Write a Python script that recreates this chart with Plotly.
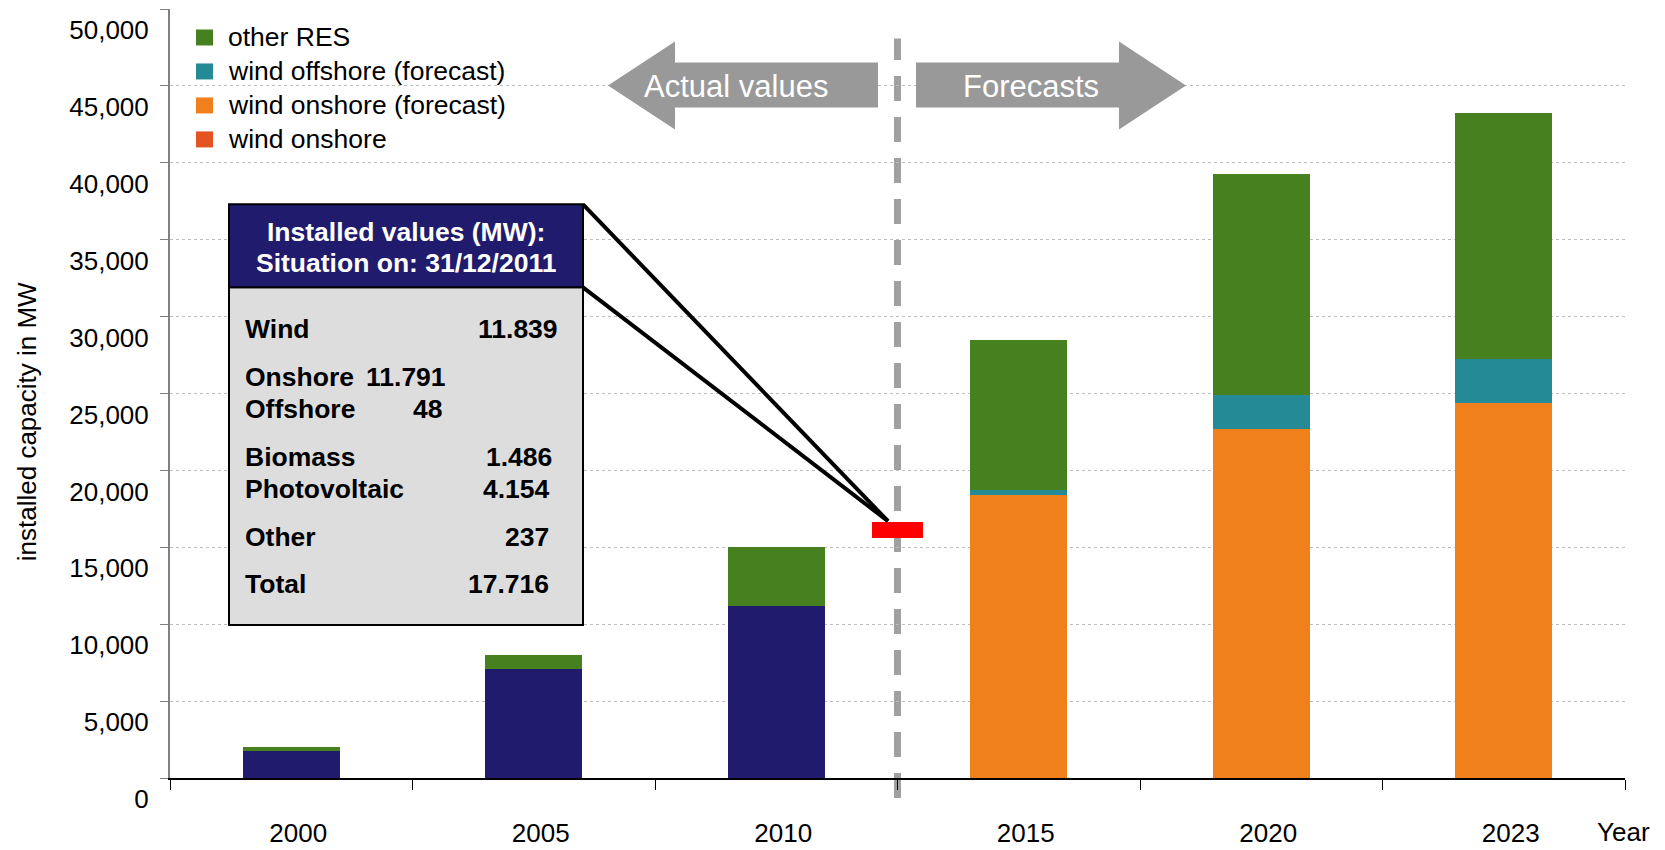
import plotly.graph_objects as go

# ---------------- data ----------------
years = ["2000", "2005", "2010", "2015", "2020", "2023"]
wind_actual = [1750, 7080, 11180, None, None, None]          # wind (actual values)
wind_onshore_fc = [None, None, None, 18400, 22680, 24370]   # wind onshore (forecast)
wind_offshore_fc = [None, None, None, 310, 2210, 2860]      # wind offshore (forecast)
other_res = [260, 910, 3830, 9750, 14360, 15980]            # other RES
marker_pos = 2.5            # situation on 31/12/2011 (between 2010 and 2015)
marker_low = 15600
marker_high = 16630
y_ticks = list(range(0, 50001, 5000))

legend_labels = ["other RES", "wind offshore (forecast)", "wind onshore (forecast)", "wind onshore"]
legend_colors = ["#47801F", "#248A96", "#EF801C", "#E55322"]

box_title = ["Installed values (MW):", "Situation on: 31/12/2011"]
box_labels = ["Wind", "Onshore", "Offshore", "Biomass", "Photovoltaic", "Other", "Total"]
box_values = ["11.839", "11.791", "48", "1.486", "4.154", "237", "17.716"]

# ---------------- geometry helpers ----------------
W, H = 1665, 850
L, R, T, B = 170, 40, 8.5, 72
PW, PH = W - L - R, H - T - B


def px(x):
    return (x - L) / PW


def py(y):
    return (H - B - y) / PH


FONT = "Liberation Sans, Arial, sans-serif"
NAVY = "#211B6E"
GREEN = legend_colors[0]
TEAL = legend_colors[1]
ORANGE = legend_colors[2]

xs = list(range(len(years)))

fig = go.Figure()
fig.add_trace(go.Bar(x=xs, y=wind_actual, width=0.4, marker=dict(color=NAVY, line=dict(width=0)),
                     name="wind", showlegend=False))
fig.add_trace(go.Bar(x=xs, y=wind_onshore_fc, width=0.4, marker=dict(color=ORANGE, line=dict(width=0)),
                     name=legend_labels[2], showlegend=False))
fig.add_trace(go.Bar(x=xs, y=wind_offshore_fc, width=0.4, marker=dict(color=TEAL, line=dict(width=0)),
                     name=legend_labels[1], showlegend=False))
fig.add_trace(go.Bar(x=xs, y=other_res, width=0.4, marker=dict(color=GREEN, line=dict(width=0)),
                     name=legend_labels[0], showlegend=False))
fig.add_trace(go.Bar(x=[marker_pos], y=[marker_high - marker_low], base=[marker_low], width=0.21,
                     marker=dict(color="#FF0000", line=dict(width=0)), name="31/12/2011", showlegend=False))

shapes = []
annotations = []

# dashed divider between actual values and forecasts
shapes.append(dict(type="line", xref="x", yref="paper", x0=marker_pos, x1=marker_pos,
                   y0=py(798), y1=py(38), layer="between",
                   line=dict(color="#A0A0A0", width=7, dash="25px,16px")))

# big arrows
left_arrow = [(608, 85), (675, 41), (675, 62), (878, 62), (878, 107), (675, 107), (675, 129)]
right_arrow = [(916, 62), (1119, 62), (1119, 41), (1186, 85), (1119, 129), (1119, 107), (916, 107)]
for poly in (left_arrow, right_arrow):
    path = "M " + " L ".join(f"{px(a):.5f},{py(b):.5f}" for a, b in poly) + " Z"
    shapes.append(dict(type="path", xref="paper", yref="paper", path=path,
                       fillcolor="#999999", line=dict(width=0), layer="above"))
annotations.append(dict(xref="paper", yref="paper", x=px(736), y=py(86), text="Actual values",
                        showarrow=False, font=dict(family=FONT, size=31, color="white"),
                        xanchor="center", yanchor="middle"))
annotations.append(dict(xref="paper", yref="paper", x=px(1031), y=py(86), text="Forecasts",
                        showarrow=False, font=dict(family=FONT, size=31, color="white"),
                        xanchor="center", yanchor="middle"))

# legend (manual)
shapes.append(dict(type="rect", xref="paper", yref="paper", x0=px(186), x1=px(563), y0=py(155), y1=py(16),
                   fillcolor="white", line=dict(width=0), layer="between"))
for i, (lab, col) in enumerate(zip(legend_labels, legend_colors)):
    yc = 37 + 34 * i
    shapes.append(dict(type="rect", xref="paper", yref="paper", x0=px(196), x1=px(213),
                       y0=py(yc + 8), y1=py(yc - 8), fillcolor=col, line=dict(width=0), layer="above"))
    annotations.append(dict(xref="paper", yref="paper", x=px(226), y=py(yc), text=lab, showarrow=False,
                            font=dict(family=FONT, size=26.5, color="black"), xanchor="left", yanchor="middle"))

# callout lines
for y0 in (204, 287):
    shapes.append(dict(type="line", xref="paper", yref="paper", x0=px(583), y0=py(y0), x1=px(888), y1=py(521),
                       line=dict(color="black", width=4), layer="above"))

# info box
shapes.append(dict(type="rect", xref="paper", yref="paper", x0=px(229), x1=px(583), y0=py(625), y1=py(287),
                   fillcolor="#DDDDDD", line=dict(color="black", width=2), layer="above"))
shapes.append(dict(type="rect", xref="paper", yref="paper", x0=px(229), x1=px(583), y0=py(287), y1=py(204),
                   fillcolor=NAVY, line=dict(color="black", width=2), layer="above"))
for t, yc in zip(box_title, (232, 263)):
    annotations.append(dict(xref="paper", yref="paper", x=px(406), y=py(yc), text=f"<b>{t}</b>",
                            showarrow=False, font=dict(family=FONT, size=26.5, color="white"),
                            xanchor="center", yanchor="middle"))
row_y = [329, 377, 409, 457, 489, 537, 584]
val_x = [560, 448, 444, 554, 552, 551, 551]
for lab, val, yc, vx in zip(box_labels, box_values, row_y, val_x):
    annotations.append(dict(xref="paper", yref="paper", x=px(243), y=py(yc), text=f"<b>{lab}</b>",
                            showarrow=False, font=dict(family=FONT, size=26.5, color="black"),
                            xanchor="left", yanchor="middle"))
    annotations.append(dict(xref="paper", yref="paper", x=px(vx), y=py(yc), text=f"<b>{val}</b>",
                            showarrow=False, font=dict(family=FONT, size=26.5, color="black"),
                            xanchor="right", yanchor="middle"))

# axis title and "Year"
annotations.append(dict(xref="paper", yref="paper", x=px(27), y=py(422), text="installed capacity in MW",
                        textangle=-90, showarrow=False, font=dict(family=FONT, size=26, color="black"),
                        xanchor="center", yanchor="middle"))
annotations.append(dict(xref="paper", yref="paper", x=px(1623), y=py(832), text="Year",
                        showarrow=False, font=dict(family=FONT, size=26, color="black"),
                        xanchor="center", yanchor="middle"))

fig.update_layout(
    width=W, height=H,
    margin=dict(l=L, r=R, t=T, b=B, pad=0, autoexpand=False),
    paper_bgcolor="white", plot_bgcolor="white",
    barmode="stack", bargap=0,
    showlegend=False,
    font=dict(family=FONT, size=26, color="black"),
    shapes=shapes, annotations=annotations,
    xaxis=dict(range=[-0.5, 5.5], tickmode="array", tickvals=xs, ticktext=years,
               ticks="", showgrid=False, zeroline=False, automargin=False,
               showline=True, linecolor="black", linewidth=1.5,
               ticklabelstandoff=31, ticklabelshift=7, ticklabeloverflow="allow",
               tickfont=dict(family=FONT, size=26, color="black"),
               minor=dict(tickmode="array", tickvals=[i - 0.5 for i in range(len(years) + 1)],
                          ticks="outside", ticklen=10, tickwidth=1, tickcolor="black", showgrid=False)),
    yaxis=dict(range=[0, 50000], tickmode="array", tickvals=y_ticks, tickformat=",",
               ticks="outside", ticklen=8, tickcolor="#808080", tickwidth=1, automargin=False,
               showline=True, linecolor="#808080", linewidth=2,
               showgrid=True, gridcolor="#BDBDBD", gridwidth=1, griddash="dot",
               zeroline=False, ticklabelshift=21, ticklabelstandoff=6, ticklabeloverflow="allow",
               tickfont=dict(family=FONT, size=26, color="black")),
)

fig.write_html("out.html", config={"displayModeBar": False},
               post_script="document.body.style.margin='0';document.body.style.overflow='hidden';")
